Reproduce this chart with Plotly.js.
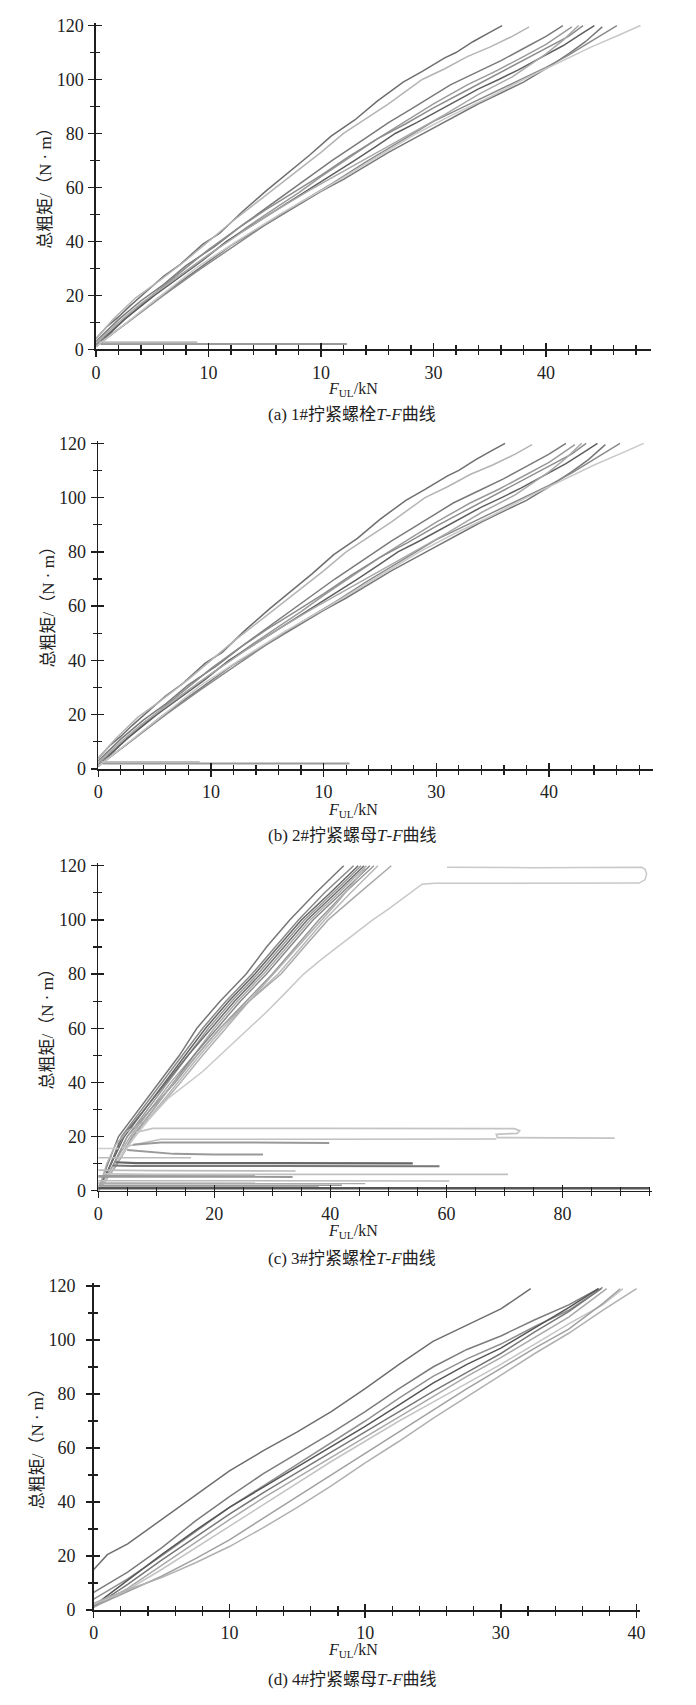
<!DOCTYPE html>
<html>
<head>
<meta charset="utf-8">
<script src="https://cdn.plot.ly/plotly-3.0.1.min.js"></script>
<style>html,body{margin:0;padding:0;background:#fff;}#chart{width:696px;height:1705px;}</style>
</head>
<body>
<div id="chart"></div>
<script>
// ---------------- DATA ----------------
// Panel (a) 1# bolt  (panel (b) 2# nut shows the same curves)
const aX = [
  [0,1,2,3,4.5,6,7.5,9.5,11,13,15.2,17,19,20.9,23,25,27.3,29,31,32,33.5,35,36.1],
  [0,1.5,3.5,5.5,8,10,12,14,16,18,20,22,24,26,29,31,33,35,37,38.5],
  [0,2,4,6,8,10.5,13,15,17,19,21,23.5,26,28,30,31.5,34,36,38,40,41.5],
  [0,2,4.5,7,9,11,13.5,16,18,20,22.5,25,27.5,30,33,35.5,38,40,42.3],
  [0,2.5,5,7.5,10,12.5,15,17.5,20,22.5,25,27.5,30,32.5,35,37.5,40,42,43.3],
  [0,1,2.5,5.2,7.5,9.5,11.6,13.5,15.5,17.5,19.2,21,23,25,26.6,28.5,30.5,32.5,34,35.8,37.5,39.5,41.5,43,44.3],
  [0,2.5,5.5,8,10,12,14,16,18,20,22,24,26,28,30,32,34,36,38,40,42,43.5,45],
  [0,3,6,9,12,15,18,21,24,27,30,33,36,38,40,42,44,46.3],
  [0,2,4,7,10,13,16,19,22,25,28,31,34,37,40,41.5,42.9],
  [0,3,5.8,9,12.5,16.5,20.5,24.5,28.5,31.5,35,38,41,44,46.5,48.4],
  [0.4,22.3],
  [0.3,9]
];
const aY = [
  [4,8.5,12,16,21.5,27,31.5,39,43,51,59,65,72,79,85,92,99,103,108,110,114,117.5,120],
  [4,11,19,25,33,40,47,53.5,60,66.5,73,80,85.5,91,100,104,108.5,112,116,119.5],
  [3,11,18,24,31,38,46,52,58,64,70,77,84,89,94,98,103,107,111.5,116,120],
  [2,9,18,26,32,38,45.5,52.5,58,64,71,78,84.5,91,98,103,108.5,113,119.5],
  [1.5,11,20,28.5,37,44.5,51.5,58,64.5,71.5,78,83.5,89.5,95,100.5,106,111.5,116,120],
  [1,5,11,20,27,33,40,45,50,55.5,60,64.5,70,75.5,80,84,88.5,93,96.5,100,103.5,108,112.5,116.5,120],
  [1,9,19,26.5,32.5,38.5,43.5,48.5,53.5,58.5,63,68,73,77.5,82,86.5,91,95,99,104,109.5,114,119.5],
  [1.5,10.5,20,29,37.5,46,54,61.5,69.5,77,84.5,90.5,96.5,100.5,104.5,109,114,120],
  [2.5,10,17,26,35,43.5,51.5,59,66,73,80,87,94.5,101,109.5,114.5,120],
  [1,11,20,30.5,40,50.5,60,70,80,86.5,93.5,100,106,112,116.5,120],
  [2,2],
  [2.6,2.6]
];
const aCol = ['#6e6e6e','#b4b4b4','#7a7a7a','#9a9a9a','#8c8c8c','#5e5e5e','#777777','#8a8a8a','#a8a8a8','#c8c8c8','#9a9a9a','#bbbbbb'];

// Panel (c) 3# bolt
const cX = [
  [0,1.5,3.5,7,10.5,14,17,21,25.5,29,33,37.5,42.3],
  [0,2,4,7.5,11,14.5,18,22,26.5,30.5,34.5,39,44],
  [0,2,4.5,8,11.5,15,18.5,22.5,27,31,35,40,44.8],
  [0,2.5,5,8.5,12,15.5,19,23,27.5,31.5,35.5,40.5,45.3],
  [0,2,4.2,8,11.8,15.5,19.5,23.5,28,32,36,41,45.8],
  [0,2.5,5.5,9,12.5,16.5,20,24,28.5,32.5,36.5,41.5,46.2],
  [0,3,6,9.5,13,16.5,20.5,24.5,29,33,37,42,46.8],
  [0,2.5,5,9,13.3,17,21,25.5,30,34,38,42.5,47.5],
  [0,3,6.2,10,13.8,17.5,21.5,26,31,35,39,43.5,48.2],
  [0,3,5.8,9.5,13,17,21,26,31.5,35.5,39.6,45,50.5],
  [0,1.5,3,5,7,9,11,14,18,22,26,31,36,41,46],
  [0,3,6,9,12,15.5,18,21,24,26,29,32,35.4,38.5,41.5,44.5,47.3,50,52.5,54.5,55.8,58,75,93.2,94.2,94.5,94.2,93.6,75,60.1],
  [6.5,9.4,40,71.7,72.6,72.2,68.6,68.8,89],
  [4,10.8,40,68.6],
  [6,10.8,25,39.8],
  [0,3.5],
  [5,8,13,20,28.4],
  [0,16],
  [3,6.5,30,54.2],
  [2.5,6,30,58.8],
  [0,10,34],
  [1,10,40,70.6],
  [0,10,33.5],
  [0,20,60.5],
  [0,20,46],
  [0,20,38],
  [0,42],
  [0,95]
];
const cY = [
  [0,9,20,30,40,50,60,70,80,90,100,110,120],
  [0,9,20,30,40,50,60,70,80,90,100,110,120],
  [0,9,20,30,40,50,60,70,80,90,100,110,120],
  [0,9,20,30,40,50,60,70,80,90,100,110,120],
  [0,9,20,30,40,50,60,70,80,90,100,110,120],
  [0,9,20,30,40,50,60,70,80,90,100,110,120],
  [0,9,20,30,40,50,60,70,80,90,100,110,120],
  [0,9,20,30,40,50,60,70,80,90,100,110,120],
  [0,9,20,30,40,50,60,70,80,90,100,110,120],
  [0,9,20,30,40,50,60,70,80,90,100,110,120],
  [0,10,17,22,24.5,27,32,39.5,50,60,70,82,94,106,119],
  [0,10,19,27,34,40,44,50,56,60,66,72.5,80,85.5,90.5,95.5,100,104,108,111,113.2,113.5,113.5,113.6,114.8,117,118.8,119.4,119.3,119.4],
  [21.5,23,23,22.9,22.2,21.2,20.8,19.6,19.4],
  [16,19,19,19.1],
  [17,17.8,17.8,17.6],
  [15.6,15.6],
  [15,14.5,13.6,13.4,13.4],
  [12.2,12.2],
  [10.5,10.2,10.2,10.1],
  [9.3,9.1,9.1,9.0],
  [7.6,7.4,7.3],
  [6.2,6.0,6.0,6.0],
  [5.3,5.3,5.2],
  [3.7,3.6,3.6],
  [2.8,2.7,2.7],
  [1.6,1.5,1.5],
  [2.0,2.0],
  [0.9,0.9]
];
const cCol = ['#777777','#8a8a8a','#666666','#9a9a9a','#707070','#aaaaaa','#888888','#999999','#b8b8b8','#aaaaaa','#b0b0b0','#c8c8c8',
  '#c4c4c4','#c0c0c0','#999999','#cccccc','#999999','#bbbbbb','#666666','#777777','#bbbbbb','#c0c0c0','#999999','#bbbbbb','#aaaaaa','#aaaaaa','#999999','#555555'];
const cW = [1.5,1.5,1.5,1.5,1.5,1.5,1.5,1.5,1.5,1.5,1.5,1.5,1.8,1.6,2,1.5,2,1.5,2.2,2,1.6,1.8,2.6,1.6,1.6,1.6,1.6,2.6];

// Panel (d) 4# nut
const dX = [
  [0,1,2.5,5,7.5,10,12.5,15,17.5,20,22.5,25,27.5,30,32.2],
  [0,2.5,5,7.5,10,12.5,15,17.5,20,22.5,25,27.5,30,32.5,35,37.2],
  [0,2.5,5,7.5,10,12.5,15,17.5,20,22.5,25,27.5,30,32.5,35,37.5],
  [0,2.5,5,7.5,10,12.5,15,17.5,20,22.5,25,27.5,30,32.5,35,37.2],
  [0,2.5,5,7.5,10,12.5,15,17.5,20,22.5,25,27.5,30,32.5,35,37.4],
  [0,2.5,5,7.5,10,12.5,15,17.5,20,22.5,25,27.5,30,32.5,35,37.8],
  [0,2.5,5,7.5,10,12.5,15,17.5,20,22.5,25,27.5,30,32.5,35,37.5,39],
  [0,2.5,5,7.5,10,12.5,15,17.5,20,22.5,25,27.5,30,32.5,35,37.5,38.8],
  [0,2.5,5,7.5,10,12.5,15,17.5,20,22.5,25,27.5,30,32.5,35,37.5,40]
];
const dY = [
  [15,20.5,24.5,33.5,42.5,51.5,59,66,73.5,82,91,99.5,105.5,111.5,119],
  [6.5,14,23,33,42,50.5,58,65.5,73.5,82,90,96.5,101.5,107.5,113,119],
  [4,11.5,20,29,38,46,54,62,70,78.5,86.5,93,98.5,105,111,119.5],
  [1.5,11,20.5,29.5,38,45.5,53,60.5,68,76,84,91,97,104.5,112,119],
  [1.2,9.5,18.5,27,35.5,43.5,51,58.5,66,73.5,81,88,95,103,110.5,119],
  [1,8,16.5,25,33.5,41.5,49,56.5,64,71.5,79,86.5,93.5,101,108.5,119],
  [2,7.5,15,23,31,39,47,55,62.5,70,77,84,91,98.5,106,113,119],
  [1.2,7,12.5,19,26,34,42,50,58,66,74,82,89.5,97,104,113.5,119],
  [2.5,7.5,12,17.5,23.5,30.5,38,46,54.5,62.5,71,79,87,95,102.5,111,119]
];
const dCol = ['#6e6e6e','#7c7c7c','#909090','#555555','#777777','#a8a8a8','#c4c4c4','#a0a0a0','#b0b0b0'];

// Tick labels
const yTicks = [0,20,40,60,80,100,120];
const xTicksAB = [0,10,20,30,40];
const xTextAB = ['0','10','10','30','40'];
const xTicksC = [0,20,40,60,80];
const xTextC = ['0','20','40','60','80'];
const yTitle = '总粗矩/（N · m）';
const xTitle = '<i>F</i><sub>UL</sub>/kN';
const captions = ['(a) 1#拧紧螺栓<i>T</i>-<i>F</i>曲线','(b) 2#拧紧螺母<i>T</i>-<i>F</i>曲线','(c) 3#拧紧螺栓<i>T</i>-<i>F</i>曲线','(d) 4#拧紧螺母<i>T</i>-<i>F</i>曲线'];

// ---------------- LAYOUT ----------------
const W = 696, H = 1705;
const panels = [
  {x0:96,   xu:11.25, xr:[0,49.3], y0:349.3,  yu:2.698, xt:xTicksAB, xtt:xTextAB, xm:2, yTitleX:46, xTitleY:389, capY:414, sh:1},
  {x0:98.2, xu:11.27, xr:[0,49.2], y0:769,    yu:2.714, xt:xTicksAB, xtt:xTextAB, xm:2, yTitleX:48, xTitleY:810, capY:836, sh:1},
  {x0:98.2, xu:5.804, xr:[0,95.4], y0:1190.7, yu:2.708, xt:xTicksC,  xtt:xTextC,  xm:5, yTitleX:48, xTitleY:1231, capY:1258, sh:1},
  {x0:93.75,xu:13.57, xr:[0,40.25],y0:1610,   yu:2.7,   xt:xTicksAB, xtt:xTextAB, xm:2, yTitleX:37, xTitleY:1650, capY:1679, sh:7}
];
const yr = [0,121];
const fontFam = 'Liberation Serif, Times New Roman, Noto Sans CJK SC, serif';
const axCol = '#1e1e1e';

const layout = {
  width: W, height: H, margin: {l:0,r:0,t:0,b:0},
  paper_bgcolor: '#fff', plot_bgcolor: 'rgba(0,0,0,0)',
  showlegend: false, annotations: [], font: {family: fontFam, color: '#222', size: 16}
};
const traces = [];

panels.forEach((p, i) => {
  const n = i + 1, m = i + 5;
  const xs = n === 1 ? '' : n;
  const xd = [(p.x0 + p.xr[0]*p.xu)/W, (p.x0 + p.xr[1]*p.xu)/W];
  const yd = [1 - (p.y0 - yr[0]*p.yu)/H, 1 - (p.y0 - yr[1]*p.yu)/H];
  const common = {showgrid:false, zeroline:false, fixedrange:true};
  layout['xaxis'+xs] = Object.assign({}, common, {
    domain: xd, range: p.xr, anchor: 'y'+xs, showline: true, linecolor: axCol, linewidth: 1.6,
    tickmode: 'array', tickvals: p.xt, ticktext: p.xtt, ticks: 'outside', ticklen: 6, tickwidth: 1.4, tickcolor: axCol,
    tickfont: {family: fontFam, size: 18, color: '#222'},
    minor: {tickmode: 'linear', tick0: 0, dtick: p.xm, ticks: 'outside', ticklen: 4, tickwidth: 1.2, tickcolor: axCol}
  });
  layout['yaxis'+xs] = Object.assign({}, common, {
    domain: yd, range: yr, anchor: 'x'+xs, showline: true, linecolor: axCol, linewidth: 1.6,
    tickmode: 'array', tickvals: yTicks, ticks: 'outside', ticklen: 6, tickwidth: 1.4, tickcolor: axCol,
    ticklabelstandoff: p.sh,
    tickfont: {family: fontFam, size: 18, color: '#222'},
    minor: {tickmode: 'linear', tick0: 0, dtick: 10, ticks: 'outside', ticklen: 4, tickwidth: 1.2, tickcolor: axCol}
  });
  layout['xaxis'+m] = Object.assign({}, common, {
    overlaying: 'x'+xs, anchor: 'y'+xs, side: 'bottom', range: p.xr, showline: false, showticklabels: false,
    tickmode: 'array', tickvals: p.xt, ticks: 'inside', ticklen: 6, tickwidth: 1.4, tickcolor: axCol,
    minor: {tickmode: 'linear', tick0: 0, dtick: p.xm, ticks: 'inside', ticklen: 4, tickwidth: 1.2, tickcolor: axCol}
  });
  layout['yaxis'+m] = Object.assign({}, common, {
    overlaying: 'y'+xs, anchor: 'x'+xs, side: 'left', range: yr, showline: false, showticklabels: false,
    tickmode: 'array', tickvals: yTicks, ticks: 'inside', ticklen: 6, tickwidth: 1.4, tickcolor: axCol,
    minor: {tickmode: 'linear', tick0: 0, dtick: 10, ticks: 'inside', ticklen: 4, tickwidth: 1.2, tickcolor: axCol}
  });
  traces.push({type:'scatter', mode:'lines', x:[], y:[], xaxis:'x'+m, yaxis:'y'+xs, hoverinfo:'skip', showlegend:false});
  traces.push({type:'scatter', mode:'lines', x:[], y:[], xaxis:'x'+xs, yaxis:'y'+m, hoverinfo:'skip', showlegend:false});

  const ycen = (p.y0 - 61*p.yu);
  layout.annotations.push({xref:'paper', yref:'paper', x: p.yTitleX/W, y: 1 - ycen/H, text: yTitle, textangle: -90,
    showarrow:false, xanchor:'center', yanchor:'middle', font:{family: fontFam, size:17, color:'#222'}});
  layout.annotations.push({xref:'paper', yref:'paper', x: 353/W, y: 1 - p.xTitleY/H, text: xTitle,
    showarrow:false, xanchor:'center', yanchor:'middle', font:{family: fontFam, size:16, color:'#222'}});
  layout.annotations.push({xref:'paper', yref:'paper', x: 352/W, y: 1 - p.capY/H, text: captions[i],
    showarrow:false, xanchor:'center', yanchor:'middle', font:{family: fontFam, size:17, color:'#222'}});
});

function addSet(X, Y, C, Wd, n) {
  const xs = n === 1 ? '' : n;
  X.forEach((x, k) => {
    traces.push({type:'scatter', mode:'lines', x: x, y: Y[k], xaxis:'x'+xs, yaxis:'y'+xs,
      line:{color: C[k], width: Wd ? Wd[k] : 1.5, shape:'linear'}, hoverinfo:'skip', showlegend:false});
  });
}
const aW = aX.map((x,k) => k >= 10 ? 2 : 1.5);
addSet(aX, aY, aCol, aW, 1);
addSet(aX, aY, aCol, aW, 2);
addSet(cX, cY, cCol, cW, 3);
addSet(dX, dY, dCol, null, 4);

Plotly.newPlot('chart', traces, layout, {displayModeBar:false, staticPlot:true});
</script>
</body>
</html>
